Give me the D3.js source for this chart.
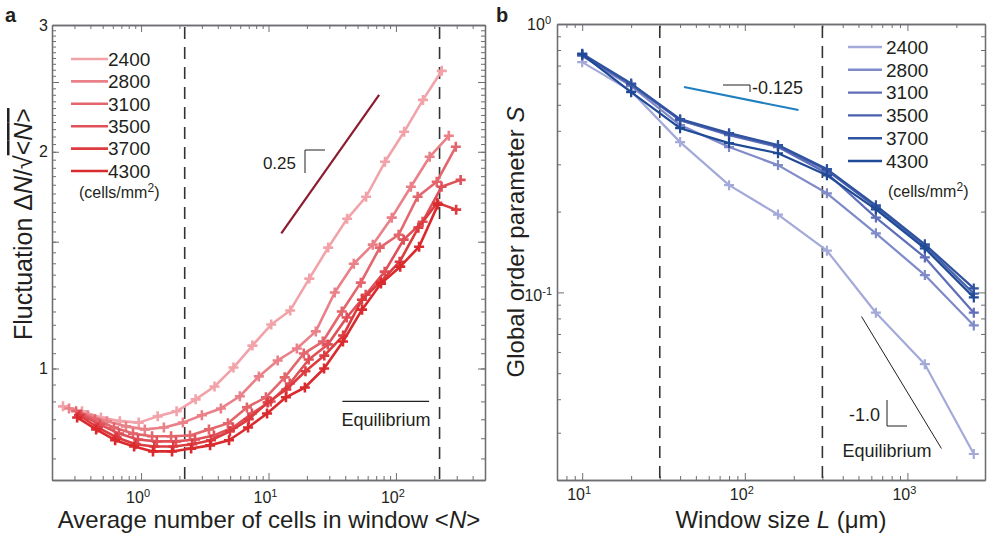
<!DOCTYPE html>
<html>
<head>
<meta charset="utf-8">
<script src="https://cdn.jsdelivr.net/npm/d3@7"></script>
<style>
  body { margin: 0; background: #fff; }
  svg { font-family: "Liberation Sans", Arial, sans-serif; }
</style>
</head>
<body>
<svg id="chart" width="987" height="538"></svg>
<script>
// ---- data ----
const densities = ['2400', '2800', '3100', '3500', '3700', '4300'];
const redColors = ['#f2a3a9', '#ea8189', '#e4666d', '#df5058', '#dc3b40', '#da2a2d'];
const blueColors = ['#a3aad9', '#7f8ac9', '#5f6eb9', '#4861ad', '#3053a0', '#1f4a96'];

// panel a: <N> and fluctuation
const nA2400 = [0.244, 0.344, 0.484, 0.681, 0.959, 1.35, 1.90, 2.68, 3.77, 5.31, 7.48, 10.5, 14.8, 20.9, 29.4, 41.4, 58.3, 82.1, 116, 163, 229];
const fA2400 = [0.886, 0.872, 0.855, 0.845, 0.841, 0.858, 0.872, 0.906, 0.944, 1.003, 1.076, 1.151, 1.204, 1.333, 1.472, 1.614, 1.732, 1.937, 2.132, 2.361, 2.591];
const nA2800 = [0.272, 0.383, 0.540, 0.761, 1.07, 1.51, 2.13, 3.00, 4.23, 5.96, 8.40, 11.8, 16.7, 23.5, 33.1, 46.7, 65.8, 92.7, 131, 184, 260];
const fA2800 = [0.880, 0.861, 0.845, 0.831, 0.823, 0.828, 0.841, 0.861, 0.880, 0.915, 0.975, 1.026, 1.066, 1.126, 1.275, 1.398, 1.486, 1.620, 1.788, 1.968, 2.105];
const nA3100 = [0.309, 0.435, 0.613, 0.864, 1.22, 1.72, 2.42, 3.41, 4.80, 6.77, 9.54, 13.4, 18.9, 26.7, 37.6, 53.0, 74.7, 105, 148, 209, 295];
const fA3100 = [0.872, 0.850, 0.828, 0.812, 0.805, 0.805, 0.807, 0.823, 0.839, 0.883, 0.912, 0.972, 1.049, 1.090, 1.200, 1.316, 1.472, 1.534, 1.732, 1.817, 2.032];
const nA3500 = [0.338, 0.476, 0.671, 0.946, 1.33, 1.88, 2.65, 3.73, 5.26, 7.41, 10.4, 14.7, 20.7, 29.2, 41.1, 57.9, 81.6, 115, 162, 228, 322];
const fA3500 = [0.863, 0.836, 0.812, 0.797, 0.792, 0.792, 0.797, 0.807, 0.828, 0.866, 0.900, 0.953, 1.029, 1.080, 1.177, 1.266, 1.363, 1.510, 1.599, 1.788, 1.828];
const nA3700 = [0.326, 0.458, 0.644, 0.906, 1.27, 1.79, 2.52, 3.54, 4.98, 7.00, 9.84, 13.8, 19.5, 27.4, 38.5, 54.1, 76.1, 107, 150, 211, 297];
const fA3700 = [0.861, 0.828, 0.802, 0.785, 0.779, 0.779, 0.785, 0.795, 0.818, 0.850, 0.897, 0.935, 0.991, 1.042, 1.111, 1.246, 1.320, 1.407, 1.569, 1.699, 1.662];
const nA4300 = [0.315, 0.444, 0.626, 0.882, 1.24, 1.75, 2.47, 3.48, 4.90, 6.91, 9.74, 13.7, 19.3, 27.3, 38.4, 54.2, 76.3, 108, 152, 214];
const fA4300 = [0.855, 0.823, 0.795, 0.779, 0.767, 0.767, 0.774, 0.782, 0.795, 0.828, 0.866, 0.912, 0.941, 1.000, 1.090, 1.207, 1.312, 1.385, 1.476, 1.689];

const dashA = [2.2, 220];
const slopeA = [[12.6, 1.54], [73.8, 2.40]];
const equilA = [[38, 0.9], [182, 0.9]];

// panel b: window size L (um) and order parameter S
const windowSize = [10, 20, 40, 80, 160, 320, 640, 1280, 2560];
const sB2400 = [0.721, 0.562, 0.363, 0.251, 0.195, 0.143, 0.084, 0.054, 0.025];
const sB2800 = [0.760, 0.587, 0.420, 0.348, 0.298, 0.234, 0.166, 0.116, 0.0753];
const sB3100 = [0.765, 0.592, 0.438, 0.385, 0.348, 0.278, 0.190, 0.135, 0.084];
const sB3500 = [0.770, 0.597, 0.438, 0.389, 0.351, 0.285, 0.208, 0.149, 0.099];
const sB3700 = [0.775, 0.600, 0.442, 0.392, 0.354, 0.288, 0.211, 0.151, 0.1035];
const sB4300 = [0.770, 0.557, 0.409, 0.360, 0.330, 0.273, 0.204, 0.146, 0.0958];

const dashB = [30, 300];
const slopeB = [[42.3, 0.582], [214, 0.478]];
const equilB = [[522, 0.0813], [1619, 0.0262]];

const seriesA = [[nA2400, fA2400], [nA2800, fA2800], [nA3100, fA3100], [nA3500, fA3500], [nA3700, fA3700], [nA4300, fA4300]];
const seriesB = [sB2400, sB2800, sB3100, sB3500, sB3700, sB4300];

// ---- drawing ----
const svg = d3.select('#chart');
const ink = '#231f20';
const frameGrey = '#6d6e71';

const xA = d3.scaleLog().domain([0.2, 500]).range([52, 485]);
const yA = d3.scaleLog().domain([0.7, 3]).range([480, 25]);
const xB = d3.scaleLog().domain([7, 3000]).range([557, 985]);
const yB = d3.scaleLog().domain([0.02, 1]).range([480, 24]);

function frame(x, y, xMaj, xMin, yMaj, yMin) {
  const [xl, xr] = x.range();
  const [yb, yt] = y.range();
  const sides = [
    [d3.axisBottom, x, xMaj, xMin, `translate(0,${yb})`],
    [d3.axisTop, x, xMaj, xMin, `translate(0,${yt})`],
    [d3.axisLeft, y, yMaj, yMin, `translate(${xl},0)`],
    [d3.axisRight, y, yMaj, yMin, `translate(${xr},0)`]
  ];
  sides.forEach(([axis, s, maj, min, tr]) => {
    [[min, -4], [maj, -7]].forEach(([vals, size]) => {
      svg.append('g')
         .attr('transform', tr)
         .call(axis(s).tickValues(vals).tickSize(size).tickSizeOuter(0).tickFormat(''))
         .call(g => g.select('.domain').attr('stroke', frameGrey).attr('stroke-width', 1.3))
         .call(g => g.selectAll('.tick line').attr('stroke', frameGrey).attr('stroke-width', 1));
    });
  });
}

function powerLabel(x, y, exp, anchor) {
  const t = svg.append('text')
               .attr('x', x).attr('y', y)
               .attr('text-anchor', anchor)
               .attr('fill', ink)
               .style('font-size', '16px');
  t.append('tspan').text('10');
  t.append('tspan').attr('dy', -6).style('font-size', '11px').text(exp);
}

function dashed(x, y, values) {
  svg.selectAll(null)
     .data(values)
     .enter()
     .append('line')
     .attr('x1', d => x(d)).attr('x2', d => x(d))
     .attr('y1', y.range()[1] + 2).attr('y2', y.range()[0])
     .attr('stroke', '#333').attr('stroke-width', 1.6)
     .attr('stroke-dasharray', '12,8');
}

const plus = s => `M${-s},0H${s}M0,${-s}V${s}`;

// ===== panel a =====
const minorA = [0.2, 0.3, 0.4, 0.5, 0.6, 0.7, 0.8, 0.9, 2, 3, 4, 5, 6, 7, 8, 9, 20, 30, 40, 50, 60, 70, 80, 90, 200, 300, 400, 500];
const yMinorA = d3.range(14, 61).map(i => i * 0.05);
frame(xA, yA, [1, 10, 100], minorA, [1, 1.5, 2, 2.5, 3], yMinorA);
dashed(xA, yA, dashA);

[1, 10, 100].forEach((v, i) => powerLabel(xA(v) - 3, 503, String(i), 'middle'));
[1, 2, 3].forEach(v => {
  svg.append('text')
     .attr('x', 48).attr('y', yA(v)).attr('dy', '0.35em')
     .attr('text-anchor', 'end').attr('fill', ink)
     .style('font-size', '16px').text(v);
});

const lineA = d3.line().x(d => xA(d[0])).y(d => yA(d[1]));
seriesA.forEach(([n, f], i) => {
  const pts = n.map((v, j) => [v, f[j]]);
  svg.append('path')
     .attr('d', lineA(pts))
     .attr('fill', 'none')
     .attr('stroke', redColors[i])
     .attr('stroke-width', 2.6)
     .attr('stroke-linejoin', 'round');
  svg.append('g')
     .selectAll('path')
     .data(pts)
     .enter()
     .append('path')
     .attr('transform', d => `translate(${xA(d[0])},${yA(d[1])})`)
     .attr('d', plus(5))
     .attr('stroke', redColors[i])
     .attr('stroke-width', 2.6);
});

svg.append('path')
   .attr('d', lineA(slopeA))
   .attr('stroke', '#8c1c30').attr('stroke-width', 2.2);
svg.append('text')
   .attr('x', 296).attr('y', 163).attr('dy', '0.35em')
   .attr('text-anchor', 'end').attr('fill', ink)
   .style('font-size', '17px').text('0.25');
svg.append('path')
   .attr('d', 'M305,173V150H325')
   .attr('fill', 'none').attr('stroke', ink).attr('stroke-width', 1);

svg.append('path')
   .attr('d', lineA(equilA))
   .attr('stroke', ink).attr('stroke-width', 1.2);
svg.append('text')
   .attr('x', 386).attr('y', 426)
   .attr('text-anchor', 'middle').attr('fill', ink)
   .style('font-size', '18px').text('Equilibrium');

// legend a
const legA = svg.append('g')
                .selectAll('g')
                .data(densities)
                .enter()
                .append('g')
                .attr('transform', (d, i) => `translate(71,${59 + i * 22.4})`);
legA.append('line')
    .attr('x1', 0).attr('x2', 37)
    .attr('stroke', (d, i) => redColors[i])
    .attr('stroke-width', 2.6);
legA.append('text')
    .attr('x', 37).attr('dy', '0.36em')
    .attr('fill', ink)
    .style('font-size', '19px')
    .text(d => d);

function unitsLabel(x, y) {
  const t = svg.append('text')
               .attr('x', x).attr('y', y)
               .attr('fill', ink)
               .style('font-size', '16px');
  t.append('tspan').text('(cells/mm');
  t.append('tspan').attr('dy', -6).style('font-size', '12px').text('2');
  t.append('tspan').attr('dy', 6).text(')');
}
unitsLabel(79, 198);

// axis titles a
const titleA = svg.append('text')
                  .attr('x', 269).attr('y', 528)
                  .attr('text-anchor', 'middle').attr('fill', ink)
                  .style('font-size', '24px');
titleA.append('tspan').text('Average number of cells in window <');
titleA.append('tspan').style('font-style', 'italic').text('N');
titleA.append('tspan').text('>');

const yTitleA = svg.append('text')
                   .attr('transform', 'translate(32,224) rotate(-90)')
                   .attr('text-anchor', 'middle').attr('fill', ink)
                   .style('font-size', '25px');
yTitleA.append('tspan').text('Fluctuation \u0394');
yTitleA.append('tspan').style('font-style', 'italic').text('N');
yTitleA.append('tspan').text('/\u221A');
yTitleA.append('tspan').style('text-decoration', 'overline').text('<');
yTitleA.append('tspan').style('font-style', 'italic').style('text-decoration', 'overline').text('N');
yTitleA.append('tspan').style('text-decoration', 'overline').text('>');

svg.append('text')
   .attr('x', 5).attr('y', 22)
   .attr('fill', ink)
   .style('font-size', '20px').style('font-weight', 'bold')
   .text('a');

// ===== panel b =====
const minorBx = [7, 8, 9, 20, 30, 40, 50, 60, 70, 80, 90, 200, 300, 400, 500, 600, 700, 800, 900, 2000, 3000];
const minorBy = [0.02, 0.03, 0.04, 0.05, 0.06, 0.07, 0.08, 0.09, 0.2, 0.3, 0.4, 0.5, 0.6, 0.7, 0.8, 0.9];
frame(xB, yB, [10, 100, 1000], minorBx, [0.1, 1], minorBy);
dashed(xB, yB, dashB);

[10, 100, 1000].forEach((v, i) => powerLabel(xB(v) - 3, 500, String(i + 1), 'middle'));
powerLabel(551, yB(1) + 6, '0', 'end');
powerLabel(552, yB(0.1) + 9, '-1', 'end');

const lineB = d3.line().x(d => xB(d[0])).y(d => yB(d[1]));
seriesB.forEach((s, i) => {
  const pts = windowSize.map((w, j) => [w, s[j]]);
  svg.append('path')
     .attr('d', lineB(pts))
     .attr('fill', 'none')
     .attr('stroke', blueColors[i])
     .attr('stroke-width', 2.2)
     .attr('stroke-linejoin', 'round');
  svg.append('g')
     .selectAll('path')
     .data(pts)
     .enter()
     .append('path')
     .attr('transform', d => `translate(${xB(d[0])},${yB(d[1])})`)
     .attr('d', plus(5))
     .attr('stroke', blueColors[i])
     .attr('stroke-width', 2.2);
});

svg.append('path')
   .attr('d', lineB(slopeB))
   .attr('stroke', '#1f7fc0').attr('stroke-width', 2);
svg.append('path')
   .attr('d', 'M723,85H750V92')
   .attr('fill', 'none').attr('stroke', ink).attr('stroke-width', 1);
svg.append('text')
   .attr('x', 752).attr('y', 88).attr('dy', '0.35em')
   .attr('fill', ink)
   .style('font-size', '18px').text('-0.125');

svg.append('path')
   .attr('d', lineB(equilB))
   .attr('stroke', ink).attr('stroke-width', 1);
svg.append('path')
   .attr('d', 'M887,400V426H907')
   .attr('fill', 'none').attr('stroke', ink).attr('stroke-width', 1);
svg.append('text')
   .attr('x', 880).attr('y', 415).attr('dy', '0.35em')
   .attr('text-anchor', 'end').attr('fill', ink)
   .style('font-size', '18px').text('-1.0');
svg.append('text')
   .attr('x', 887).attr('y', 457)
   .attr('text-anchor', 'middle').attr('fill', ink)
   .style('font-size', '18px').text('Equilibrium');

// legend b
const legB = svg.append('g')
                .selectAll('g')
                .data(densities)
                .enter()
                .append('g')
                .attr('transform', (d, i) => `translate(848,${47 + i * 22.8})`);
legB.append('line')
    .attr('x1', 0).attr('x2', 34)
    .attr('stroke', (d, i) => blueColors[i])
    .attr('stroke-width', 2.4);
legB.append('text')
    .attr('x', 38).attr('dy', '0.36em')
    .attr('fill', ink)
    .style('font-size', '19px')
    .text(d => d);
unitsLabel(888, 197);

const titleB = svg.append('text')
                  .attr('x', 781).attr('y', 528)
                  .attr('text-anchor', 'middle').attr('fill', ink)
                  .style('font-size', '24px');
titleB.append('tspan').text('Window size ');
titleB.append('tspan').style('font-style', 'italic').text('L');
titleB.append('tspan').text(' (\u03BCm)');

const yTitleB = svg.append('text')
                   .attr('transform', 'translate(524,242) rotate(-90)')
                   .attr('text-anchor', 'middle').attr('fill', ink)
                   .style('font-size', '24px');
yTitleB.append('tspan').text('Global order parameter ');
yTitleB.append('tspan').style('font-style', 'italic').text('S');

svg.append('text')
   .attr('x', 496).attr('y', 22)
   .attr('fill', ink)
   .style('font-size', '20px').style('font-weight', 'bold')
   .text('b');
</script>
</body>
</html>
